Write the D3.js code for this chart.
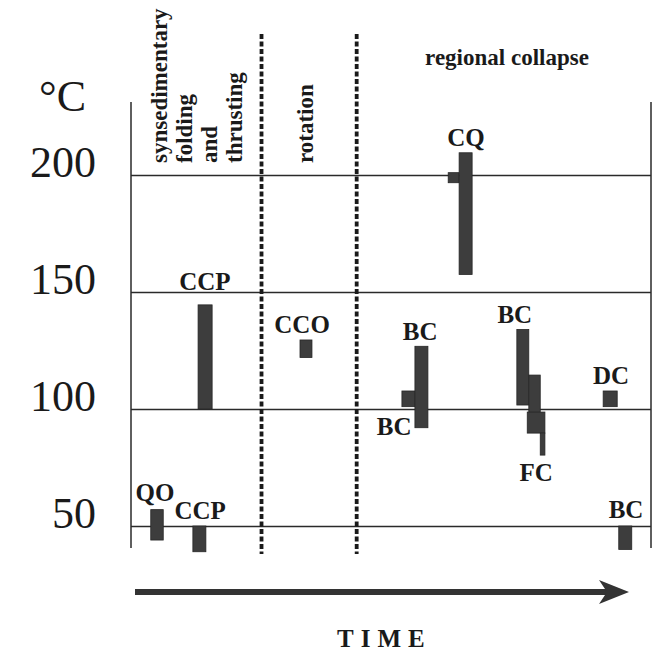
<!DOCTYPE html>
<html>
<head>
<meta charset="utf-8">
<script src="https://cdn.jsdelivr.net/npm/d3@7"></script>
<style>
  body { margin: 0; background: #fff; }
  text { font-family: "Liberation Serif", "Times New Roman", serif; fill: #1a1a1a; }
</style>
</head>
<body>
<svg id="svg1" width="656" height="654"></svg>
<script>

// temperature ticks (deg C)
const tempTicks = [50, 100, 150, 200];

// phase boundaries on the time axis (arbitrary units 0-100)
const phaseBounds = [25.1, 43.4];

// bars: time start/end and temperature low/high
const barStart = [3.8, 11.9, 12.9, 32.5, 52.1, 54.6, 61.0, 63.1, 74.2, 76.5, 76.2, 78.7, 90.8, 93.8];
const barEnd   = [6.2, 14.4, 15.6, 34.8, 54.6, 57.1, 63.1, 65.6, 76.5, 78.7, 79.6, 79.6, 93.5, 96.3];
const barLow   = [44, 39, 100, 122, 101, 92, 196.7, 157.5, 101.7, 98.3, 89.7, 80.3, 101, 40];
const barHigh  = [57, 50, 144.5, 129.5, 107.7, 126.8, 201, 209.5, 134, 114.5, 98.7, 89.7, 107.7, 50];

// mineral labels
const labelText = ["QO", "CCP", "CCP", "CCO", "BC", "BC", "CQ", "BC", "FC", "DC", "BC"];
const labelTime = [4.6, 13.3, 14.2, 32.9, 50.6, 55.6, 64.4, 73.8, 77.9, 92.3, 95.2];
const labelTemp = [60.7, 53, 151, 132.5, 88.9, 129.5, 212.4, 136.8, 69.2, 110.7, 53.4];

function drawChart(){

  let svg = d3.select("#svg1");

  let left = 131, right = 651, top = 102, bottom = 548;

  let x = d3.scaleLinear().domain([0, 100]).range([left, right]);
  let y = d3.scaleLinear().domain([50, 200]).range([526, 175]);

  // grid lines and tick labels
  let yAxis = svg.append("g")
      .attr("class", "axis axis-y")
      .attr("transform", `translate(${left},0)`)
      .call(d3.axisLeft(y).tickValues(tempTicks).tickSize(-(right - left)).tickFormat(d3.format("d")));

  yAxis.select(".domain").remove();
  yAxis.selectAll(".tick line")
      .attr("stroke", "#2a2a2a")
      .attr("stroke-width", 1.3);
  yAxis.selectAll(".tick text")
      .attr("x", -35)
      .attr("dy", "0.04em")
      .style("font-family", "'Liberation Serif', serif")
      .style("font-size", "44px")
      .attr("fill", "#1a1a1a");

  // frame lines left and right
  svg.append("line")
      .attr("x1", left).attr("x2", left).attr("y1", top).attr("y2", bottom)
      .attr("stroke", "#2a2a2a").attr("stroke-width", 1.5);
  svg.append("line")
      .attr("x1", right).attr("x2", right).attr("y1", top).attr("y2", bottom)
      .attr("stroke", "#2a2a2a").attr("stroke-width", 1.5);

  // dashed phase boundaries
  svg.selectAll(".phase")
    .data(phaseBounds)
    .enter().append("line")
      .attr("class", "phase")
      .attr("x1", d => x(d)).attr("x2", d => x(d))
      .attr("y1", 34).attr("y2", 554)
      .attr("stroke", "#1a1a1a")
      .attr("stroke-width", 3.8)
      .attr("stroke-dasharray", "5,2.5");

  // unit
  svg.append("text")
      .attr("x", 86).attr("y", 111)
      .attr("text-anchor", "end")
      .style("font-size", "44px")
      .text("°C");

  // phase titles
  let firstPhase = ["synsedimentary", "folding", "and", "thrusting"];
  let lineX = [167, 192, 217, 242];
  firstPhase.forEach((t, i) => {
    svg.append("text")
        .attr("transform", `translate(${lineX[i]},163) rotate(-90)`)
        .style("font-size", "23px")
        .style("font-weight", "bold")
        .text(t);
  });

  svg.append("text")
      .attr("transform", "translate(313,163) rotate(-90)")
      .style("font-size", "23px")
      .style("font-weight", "bold")
      .text("rotation");

  svg.append("text")
      .attr("x", 507).attr("y", 65)
      .attr("text-anchor", "middle")
      .style("font-size", "23px")
      .style("font-weight", "bold")
      .text("regional collapse");

  // bars
  let bars = barStart.map((s, i) => ({s: s, e: barEnd[i], lo: barLow[i], hi: barHigh[i]}));

  svg.selectAll(".bar")
    .data(bars)
    .enter().append("rect")
      .attr("class", "bar")
      .attr("x", d => x(d.s))
      .attr("y", d => y(d.hi))
      .attr("width", d => x(d.e) - x(d.s))
      .attr("height", d => y(d.lo) - y(d.hi))
      .attr("fill", "#3d3d3d")
      .attr("stroke", "#262626")
      .attr("stroke-width", 0.8);

  // labels
  svg.selectAll(".lbl")
    .data(labelText)
    .enter().append("text")
      .attr("class", "lbl")
      .attr("x", (d, i) => x(labelTime[i]))
      .attr("y", (d, i) => y(labelTemp[i]))
      .attr("text-anchor", "middle")
      .style("font-size", "25px")
      .style("font-weight", "bold")
      .text(d => d);

  // time arrow
  svg.append("line")
      .attr("x1", 135).attr("x2", 612)
      .attr("y1", 592).attr("y2", 592)
      .attr("stroke", "#333")
      .attr("stroke-width", 6);
  svg.append("path")
      .attr("d", "M599,580 L629,592 L599,604 L607,592 Z")
      .attr("fill", "#333");

  svg.append("text")
      .attr("x", 337).attr("y", 647)
      .style("font-size", "25px")
      .style("font-weight", "bold")
      .style("letter-spacing", "7px")
      .text("TIME");
}

drawChart();
</script>
</body>
</html>
